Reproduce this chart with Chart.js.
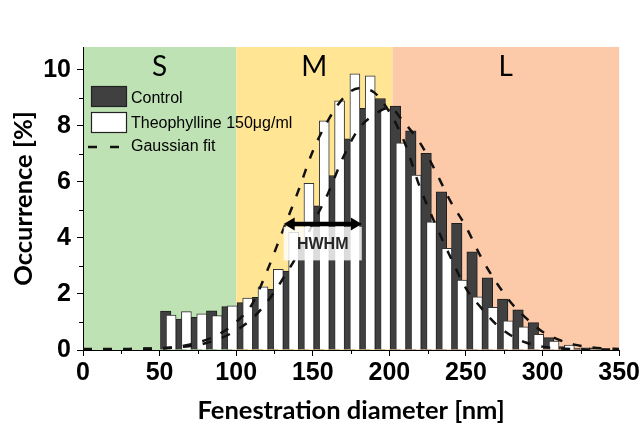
<!DOCTYPE html>
<html><head><meta charset="utf-8">
<script src="https://cdn.jsdelivr.net/npm/chart.js@4/dist/chart.umd.min.js"></script>
<style>html,body{margin:0;padding:0;background:#fff;}#wrap{width:642px;height:428px;}</style>
</head><body><div id="wrap"><canvas id="c" width="642" height="428"></canvas></div>
<script>
// ---- data ----
const binCenters = [55,65,75,85,95,105,115,125,135,145,155,165,175,185,195,205,215,225,235,245,255,265,275,285,295,305,315,325,335];
const controlValues = [1.39,1.10,1.17,1.40,1.55,1.69,1.88,2.17,2.82,3.9,5.15,6.23,7.54,8.63,8.98,8.71,7.83,7.02,5.65,4.52,3.51,2.58,1.82,1.43,0.98,0.44,0.12,0.05,0.08];
const theophyllineValues = [1.25,1.37,1.29,1.23,1.58,1.85,2.26,2.88,4.2,5.95,8.18,8.9,9.86,9.79,8.6,7.40,6.25,4.58,3.63,2.5,1.90,1.52,1.04,0.83,0.56,0.32,0.18,0.08,0.04];
const fitX = [0,10,20,30,40,50,60,70,80,90,100,110,120,130,140,150,160,170,180,190,200,210,220,230,240,250,260,270,280,290,300,310,320,330,340,350];
const controlFit = [0.04,0.04,0.04,0.04,0.05,0.06,0.09,0.14,0.24,0.42,0.7,1.1,1.7,2.5,3.4,4.5,5.6,6.9,7.9,8.4,8.65,8.1,7.4,6.4,5.3,4.4,3.3,2.4,1.65,1.1,0.65,0.38,0.2,0.11,0.06,0.04];
const theophyllineFit = [0.03,0.03,0.03,0.03,0.04,0.06,0.1,0.2,0.35,0.6,1.0,1.6,2.8,4.2,5.6,7.1,8.2,9.0,9.35,9.2,8.5,7.4,5.8,4.5,3.3,2.2,1.5,0.9,0.5,0.25,0.12,0.06,0.03,0.02,0.02,0.02];
const xTicks = [0,50,100,150,200,250,300,350];
const yTicks = [0,2,4,6,8,10];
const regionLabels = ['S','M','L'];
const regionBounds = [0,100,202,350];
const hwhmRange = [131,182];
const hwhmLevel = 4.5;
const hwhmBoxRange = [3.2,4.4];
const hwhmText = 'HWHM';
const seriesLabels = ['Control','Theophylline 150\u03BCg/ml','Gaussian fit'];

// ---- styles ----
const bandColors = ['#BFE2B4','#FFE594','#FCCAA8'];
const darkFill = '#404040';
const tickFont = {family:"'Liberation Sans Narrow','Arial Narrow','Liberation Sans',sans-serif", weight:'bold', size:25};
const titleFont = {family:"Lato,'Open Sans',sans-serif", weight:'bold', size:25.5};

const decor = {
  id:'decor',
  beforeDraw(chart){
    const {ctx, chartArea:{top,bottom}, scales:{x}} = chart;
    ctx.save();
    for(let i=0;i<regionLabels.length;i++){
      const x0 = x.getPixelForValue(regionBounds[i]);
      const x1 = x.getPixelForValue(regionBounds[i+1]);
      ctx.fillStyle = bandColors[i];
      ctx.fillRect(x0, top, x1-x0, bottom-top);
      ctx.fillStyle = '#000';
      ctx.font = "28px Lato, 'Open Sans', sans-serif";
      ctx.textAlign = 'center';
      ctx.textBaseline = 'alphabetic';
      ctx.fillText(regionLabels[i], (x0+x1)/2, top+29);
    }
    ctx.restore();
  },
  afterDatasetsDraw(chart){
    const {ctx, scales:{x,y}} = chart;
    ctx.save();
    const x0 = x.getPixelForValue(hwhmRange[0]);
    const x1 = x.getPixelForValue(hwhmRange[1]);
    const yb0 = y.getPixelForValue(hwhmBoxRange[1]);
    const yb1 = y.getPixelForValue(hwhmBoxRange[0]);
    ctx.fillStyle = 'rgba(255,255,255,0.82)';
    ctx.fillRect(x0, yb0, x1-x0, yb1-yb0);
    ctx.fillStyle = '#262626';
    ctx.font = "bold 16px 'Liberation Sans', Arial, sans-serif";
    ctx.textAlign = 'center';
    ctx.textBaseline = 'middle';
    ctx.fillText(hwhmText, (x0+x1)/2, (yb0+yb1)/2+1);
    const ya = y.getPixelForValue(hwhmLevel);
    const hl = 11, hw = 6.5;
    ctx.strokeStyle = '#000'; ctx.fillStyle = '#000';
    ctx.lineWidth = 4.5;
    ctx.beginPath(); ctx.moveTo(x0+hl-1, ya); ctx.lineTo(x1-hl+1, ya); ctx.stroke();
    ctx.beginPath(); ctx.moveTo(x0, ya); ctx.lineTo(x0+hl, ya-hw); ctx.lineTo(x0+hl, ya+hw); ctx.closePath(); ctx.fill();
    ctx.beginPath(); ctx.moveTo(x1, ya); ctx.lineTo(x1-hl, ya-hw); ctx.lineTo(x1-hl, ya+hw); ctx.closePath(); ctx.fill();
    ctx.restore();
  },
  afterDraw(chart){
    const {ctx, chartArea:{left,bottom}, scales:{x,y}} = chart;
    ctx.save();
    ctx.strokeStyle = '#000'; ctx.lineWidth = 1;
    for(let i=0;i<xTicks.length-1;i++){
      const px = Math.round(x.getPixelForValue((xTicks[i]+xTicks[i+1])/2))+0.5;
      ctx.beginPath(); ctx.moveTo(px,bottom); ctx.lineTo(px,bottom+4); ctx.stroke();
    }
    for(let i=0;i<yTicks.length-1;i++){
      const py = Math.round(y.getPixelForValue((yTicks[i]+yTicks[i+1])/2))+0.5;
      ctx.beginPath(); ctx.moveTo(left,py); ctx.lineTo(left-4,py); ctx.stroke();
    }
    const bx = 91, bw = 36, bh = 21, tx = 131;
    const rows = [86, 112];
    ctx.lineWidth = 1.2; ctx.strokeStyle = '#222';
    ctx.fillStyle = darkFill; ctx.fillRect(bx, rows[0], bw, bh); ctx.strokeRect(bx+0.5, rows[0]+0.5, bw-1, bh-1);
    ctx.fillStyle = '#fff'; ctx.fillRect(bx, rows[1], bw, bh); ctx.strokeRect(bx+0.5, rows[1]+0.5, bw-1, bh-1);
    ctx.strokeStyle = '#111'; ctx.lineWidth = 2.5; ctx.setLineDash([9,13]);
    ctx.beginPath(); ctx.moveTo(88,147); ctx.lineTo(119,147); ctx.stroke();
    ctx.setLineDash([]);
    ctx.fillStyle = '#000';
    ctx.font = "16px 'Liberation Sans', Arial, sans-serif";
    ctx.textAlign = 'left'; ctx.textBaseline = 'alphabetic';
    ctx.fillText(seriesLabels[0], tx, 103);
    ctx.fillText(seriesLabels[1], tx, 128);
    ctx.fillText(seriesLabels[2], tx, 151);
    ctx.restore();
  }
};

new Chart(document.getElementById('c'), {
  type:'bar',
  data:{
    datasets:[
      {type:'line', label:seriesLabels[2], data:fitX.map((v,i)=>({x:v,y:controlFit[i]})), xAxisID:'x',
       borderColor:'#111', borderWidth:2.5, borderDash:[9,11], pointRadius:0, fill:false, cubicInterpolationMode:'monotone', order:0},
      {type:'line', label:seriesLabels[2]+' 2', data:fitX.map((v,i)=>({x:v,y:theophyllineFit[i]})), xAxisID:'x',
       borderColor:'#111', borderWidth:2.5, borderDash:[9,11], pointRadius:0, fill:false, cubicInterpolationMode:'monotone', order:0},
      {type:'bar', label:seriesLabels[0], data:binCenters.map((v,i)=>({x:v,y:controlValues[i]})), xAxisID:'xControl',
       backgroundColor:darkFill, borderColor:'#1e1e1e', borderWidth:1, barThickness:10.5, grouped:false, order:2},
      {type:'bar', label:seriesLabels[1], data:binCenters.map((v,i)=>({x:v,y:theophyllineValues[i]})), xAxisID:'xTheo',
       backgroundColor:'#ffffff', borderColor:'#333', borderWidth:1, barThickness:10, grouped:false, order:1}
    ]
  },
  options:{
    responsive:false, animation:false, devicePixelRatio:1,
    layout:{padding:{top:47,right:21,left:0,bottom:0}},
    plugins:{legend:{display:false}, tooltip:{enabled:false}},
    scales:{
      x:{type:'linear', min:0, max:350, offset:false, position:'bottom',
         afterFit:s=>{s.height=78;},
         afterBuildTicks:s=>{s.ticks=xTicks.map(v=>({value:v}));},
         border:{display:true,color:'#000',width:1},
         grid:{drawOnChartArea:false, drawTicks:true, tickLength:6, tickColor:'#000', offset:false},
         ticks:{font:tickFont, color:'#000', padding:2, maxRotation:0, autoSkip:false},
         title:{display:true, text:'Fenestration diameter [nm]', font:titleFont, color:'#000', padding:{top:0,bottom:2}}},
      xControl:{type:'linear', display:false, min:1, max:351, offset:false},
      xTheo:{type:'linear', display:false, min:-2.5, max:347.5, offset:false},
      y:{min:0, max:10.82,
         afterFit:s=>{s.width=83;},
         afterBuildTicks:s=>{s.ticks=yTicks.map(v=>({value:v}));},
         border:{display:true,color:'#000',width:1},
         grid:{drawOnChartArea:false, drawTicks:true, tickLength:6, tickColor:'#000'},
         ticks:{font:tickFont, color:'#000', padding:6},
         title:{display:true, text:'Occurrence [%]', font:titleFont, color:'#000', padding:{top:8,bottom:0}}}
    }
  },
  plugins:[decor]
});
</script>
</body></html>
